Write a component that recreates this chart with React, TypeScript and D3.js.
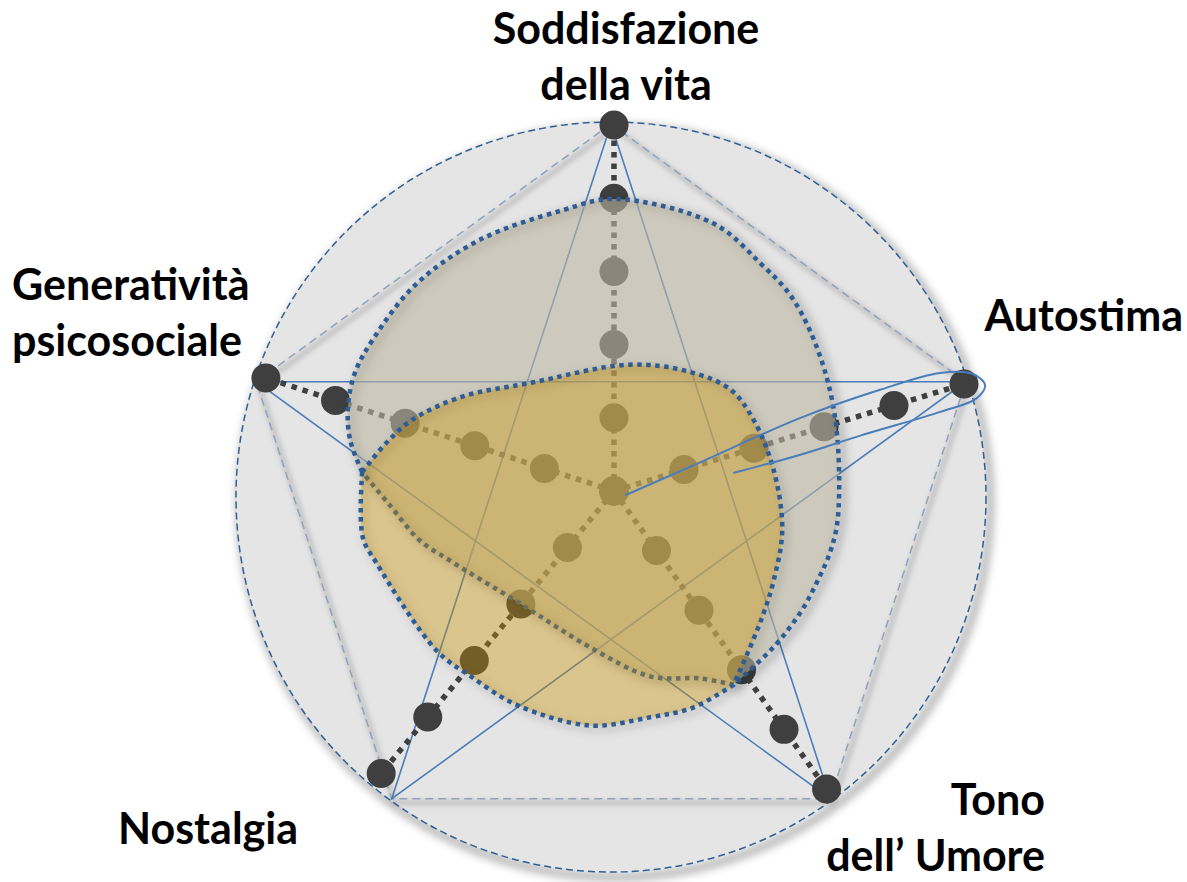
import React from "react";
import * as d3 from "d3";

// ---------- data ----------
const axisLabels = [
  ["Soddisfazione", "della vita"],
  ["Autostima"],
  ["Tono", "dell’ Umore"],
  ["Nostalgia"],
  ["Generatività", "psicosociale"],
];
// axis directions, degrees clockwise from the top (as drawn in the picture)
const axisAngles = [0, 73, 144.5, 219.5, 288];
const levels = [1, 2, 3, 4, 5];
const maxLevel = 5;

// outlines of the two areas, as [angle°, level] pairs
// grey area upper arc (left tip -> over the top -> lower right junction)
const greyArc = [
  [274.3, 3.45], [280.9, 3.67], [287.5, 3.81], [294.5, 3.89], [302.1, 3.89],
  [316, 3.91], [331.9, 3.89], [349.7, 3.9], [0, 3.99], [20.3, 3.9],
  [32.6, 3.7], [42.7, 3.59], [56.4, 3.37], [72.9, 3.17], [96.6, 3.08],
  [105.3, 3.07], [113.7, 3.04], [123, 3.04], [134.5, 3.05], [148.3, 3.11],
];
// yellow area, upper edge (left tip -> top -> right side -> junction)
const blobTop = [
  [274.3, 3.45], [281.9, 3.18], [289.5, 2.92], [301.9, 2.44], [322.1, 1.87],
  [7.2, 1.74], [32.6, 1.93], [48.9, 2.11], [62.9, 2.14], [82.5, 2.2],
  [103.1, 2.36], [119.2, 2.5], [129.3, 2.64], [138.9, 2.83], [148.3, 3.11],
];
// inner diagonal edge (junction -> left tip)
const blobBottom = [
  [148.3, 3.11], [155.3, 2.82], [169, 2.58], [188.7, 2.16], [219.5, 2.0],
  [247.2, 2.44], [255.8, 2.74], [266.4, 3.07], [274.3, 3.45],
];
// yellow area, lower arc (junction -> bottom -> left tip)
const yellowArc = [
  [148.3, 3.11], [159.9, 3.15], [170.9, 3.13], [185.9, 3.22], [204.4, 3.21],
  [217.8, 3.2], [228.1, 3.26], [253.1, 3.39], [259.6, 3.49], [274.3, 3.45],
];
// callout loop round the "Autostima" axis: [along axis, across axis] in levels
const calloutLoop = [
  [0.13, -0.1], [1.24, 0.03], [2.72, 0.21], [3.88, 0.26], [4.73, 0.24],
  [5.15, 0.1], [5.27, -0.1], [5.1, -0.24], [4.59, -0.27], [3.45, -0.26],
  [2.58, -0.27], [1.63, -0.24],
];

// ---------- chart ----------
export default function App() {
  const W = 1187;
  const H = 882;
  const cx = 614;
  const cy = 491;
  const fcx = 611;
  const fcy = 497;
  const frameR = 373;
  const circleR = 375;

  const r = d3.scaleLinear().domain([0, maxLevel]).range([0, 366]);
  const pt = (a: number, l: number): [number, number] => {
    const t = (a * Math.PI) / 180;
    return [cx + r(l) * Math.sin(t), cy - r(l) * Math.cos(t)];
  };
  const framePt = (a: number): [number, number] => {
    const t = (a * Math.PI) / 180;
    return [fcx + frameR * Math.sin(t), fcy - frameR * Math.cos(t)];
  };
  const smooth = d3.line<[number, number]>().curve(d3.curveCatmullRom.alpha(0.5));
  const seg = (pts: number[][]) => smooth(pts.map(([a, l]) => pt(a, l))) as string;
  const join = (a: number[][], b: number[][]) => seg(a) + seg(b).replace(/^M/, "L") + "Z";

  const greyPath = join(greyArc, blobBottom);
  const yellowPath = join(blobTop, yellowArc);

  const frameAngles = d3.range(5).map((i) => i * 72);
  const pentagon = d3.line().curve(d3.curveLinearClosed)(frameAngles.map(framePt)) as string;
  const starOrder = [0, 2, 4, 1, 3];
  const star = d3.line().curve(d3.curveLinearClosed)(starOrder.map((i) => framePt(frameAngles[i]))) as string;

  const ca = (axisAngles[1] * Math.PI) / 180;
  const eu = [Math.sin(ca), -Math.cos(ca)];
  const ev = [-Math.cos(ca), -Math.sin(ca)];
  const loopPts = calloutLoop.map(([u, v]) => [
    cx + r(u) * eu[0] + r(v) * ev[0],
    cy + r(u) * eu[1] + r(v) * ev[1],
  ]) as [number, number][];
  const loopPath = d3.line().curve(d3.curveCatmullRom.alpha(0.5))(loopPts) as string;

  const dark = "#3f3f3f";
  const blueDot = "#2e5d96";

  const labelPos = [
    { x: 626, y: 44, anchor: "middle" },
    { x: 1183, y: 331, anchor: "end" },
    { x: 1045, y: 815, anchor: "end" },
    { x: 118, y: 844, anchor: "start" },
    { x: 12, y: 300, anchor: "start" },
  ];
  const lineGap = 56;

  return (
    <svg
      width={W}
      height={H}
      style={{ position: "absolute", left: 0, top: 0, background: "#fff" }}
    >
      <defs>
        <filter id="soft" x="-20%" y="-20%" width="140%" height="140%">
          <feGaussianBlur stdDeviation="4" />
        </filter>
        <filter id="soft2" x="-20%" y="-20%" width="140%" height="140%">
          <feGaussianBlur stdDeviation="2.5" />
        </filter>
      </defs>

      {/* outer circle */}
      <circle cx={fcx + 4} cy={fcy + 5} r={circleR} fill="none" stroke="#000" strokeOpacity={0.3} strokeWidth={8} filter="url(#soft)" />
      <circle cx={fcx} cy={fcy} r={circleR} fill="#e5e5e5" />
      {/* pentagon */}
      <path d={pentagon} transform="translate(3,4)" fill="none" stroke="#000" strokeOpacity={0.16} strokeWidth={5} filter="url(#soft2)" />
      <path d={pentagon} fill="none" stroke="#8fa2bc" strokeWidth={1.5} strokeDasharray="8 5" />
      <circle cx={fcx} cy={fcy} r={circleR} fill="none" stroke="#2f5f96" strokeWidth={1.5} strokeDasharray="7 4" />
      {/* pentagram */}
      <path d={star} fill="none" stroke="#4a7ebb" strokeWidth={1.6} />

      {/* axes with level dots */}
      {axisAngles.map((a, i) => {
        const [x2, y2] = pt(a, maxLevel);
        return (
          <g key={"ax" + i}>
            <line x1={cx} y1={cy} x2={x2} y2={y2} stroke={dark} strokeWidth={5.5} strokeDasharray="5.5 6" />
            {levels.map((l) => {
              const [x, y] = pt(a, l);
              return <circle key={l} cx={x} cy={y} r={14.5} fill={dark} />;
            })}
          </g>
        );
      })}
      <circle cx={cx} cy={cy} r={15} fill={dark} />

      {/* grey area */}
      <path d={greyPath} transform="translate(4,3)" fill="none" stroke="#000" strokeOpacity={0.22} strokeWidth={7} filter="url(#soft)" />
      <path d={greyPath} fill="rgb(188,183,161)" fillOpacity={0.6} />
      <path d={greyPath} fill="none" stroke={blueDot} strokeWidth={4.5} strokeDasharray="4.5 4.5" />

      {/* yellow area */}
      <path d={yellowPath} transform="translate(3,3)" fill="none" stroke="#000" strokeOpacity={0.15} strokeWidth={6} filter="url(#soft)" />
      <path d={yellowPath} fill="rgb(202,145,0)" fillOpacity={0.38} />
      <path d={yellowPath} fill="none" stroke={blueDot} strokeWidth={4.5} strokeDasharray="4.5 4.5" />

      {/* callout loop */}
      <path d={loopPath} fill="none" stroke="#4a7ebb" strokeWidth={2} />

      {/* labels */}
      {axisLabels.map((lines, i) => (
        <text
          key={"lb" + i}
          x={labelPos[i].x}
          y={labelPos[i].y}
          textAnchor={labelPos[i].anchor as any}
          fontFamily="Lato, 'Open Sans', sans-serif"
          fontWeight={700}
          fontSize={43}
          fill="#000"
        >
          {lines.map((t, j) => (
            <tspan key={j} x={labelPos[i].x} dy={j === 0 ? 0 : lineGap}>
              {t}
            </tspan>
          ))}
        </text>
      ))}
    </svg>
  );
}
